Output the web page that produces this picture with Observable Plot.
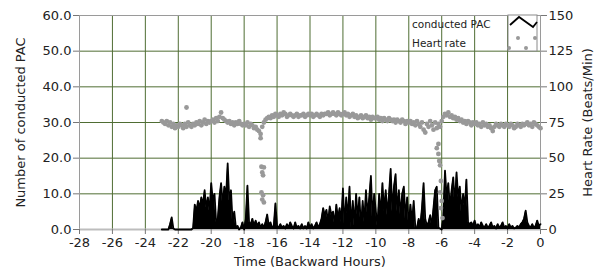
<!DOCTYPE html>
<html>
<head>
<meta charset="utf-8">
<script src="https://cdn.jsdelivr.net/npm/d3@7"></script>
<script src="https://cdn.jsdelivr.net/npm/@observablehq/plot@0.6"></script>
<style>
  html, body { margin: 0; padding: 0; background: #fff; }
  #chart { width: 606px; height: 273px; }
</style>
</head>
<body>
<div id="chart"></div>
<script>
// ---------- data ----------
const xTicks = [-28, -26, -24, -22, -20, -18, -16, -14, -12, -10, -8, -6, -4, -2, 0];
const yTicks = [0, 10, 20, 30, 40, 50, 60];          // left axis (conducted PAC)
const hrTickLabels = [0, 25, 50, 75, 100, 125, 150];  // right axis (heart rate)

// conducted PAC, sampled every 0.1 h from -23.0 h to 0.0 h
const pacStart = -23.0;
const pacStep = 0.1;
const pacValues = [
  0, 0, 0, 0, 0,
  1.5, 3.4, 0.3,
  0, 0, 0, 0, 0, 0, 0, 0, 0, 0, 0, 0.4,
  7, 5, 8, 6, 9, 7, 11, 6, 9, 5,
  13, 8, 10, 2, 3, 9, 13, 7, 12, 9,
  18.5, 8, 11, 2, 5, 0.5, 1, 0, 0.5, 2, 0,
  3, 12.3, 2, 1.5, 3, 1, 2.5, 1, 2, 0.5,
  1.5, 0.5, 2, 4.2, 1, 2, 0.5, 1, 7.3, 1,
  0.5, 1.5, 0.5, 1, 0.3, 1.5, 0.5, 2, 1, 0.3,
  2, 0.5, 1, 0.3, 1.5, 0.3, 1, 0.3, 2, 0.5,
  1.5, 0.3, 1, 2, 0.5, 1.5,
  3, 6, 4, 5.5, 2, 6.5, 4, 5, 1.5, 7,
  3, 6, 2, 11.5, 1, 9, 3, 12, 0.5, 8,
  1, 10, 3, 9, 0.5, 8, 2, 11, 4, 9,
  15, 3, 10, 5, 1, 10, 4, 13, 5, 11,
  4, 10, 17, 5, 12, 15.5, 5, 11, 4, 10,
  12, 3, 9, 1, 7, 2, 8, 0.5, 0.5, 3,
  1, 6, 13, 3, 1, 2, 4, 1, 6, 11,
  12, 0.5, 0.3, 0, 4, 16.5, 9, 13, 6, 11,
  14.6, 7, 16, 9, 12, 5, 10, 6, 14, 2,
  1.5, 2, 1, 2.5, 0.8, 1.5, 0.5, 2, 1, 0.5,
  1.5, 0.5, 1, 2, 0.5, 1, 0.3, 1.5, 0.5, 1,
  2, 0.5, 1, 0.3, 1.5, 0.5, 1, 0.3, 0.5, 1,
  0.5, 1.5, 2, 3, 5.3, 2, 1, 0.5, 1.5, 0.5,
  1, 2.5, 1, 1.5
];

// heart rate (beats/min), sampled every 0.1 h from -23.0 h to 0.0 h
const hrStart = -23.0;
const hrStep = 0.1;
const hrValues = [
  76, 75, 74, 76, 73, 75, 72, 74, 71, 73,
  72, 74, 73, 71, 74, 72, 75, 73, 72, 74,
  73, 75, 74, 76, 73, 75, 77, 74, 76, 75,
  76, 77, 75, 78, 76, 79, 82, 78, 77, 76,
  75, 76, 74, 75, 73, 75, 74, 76, 74, 73,
  74, 73, 75, 72, 74, 73, 71, 72, 70, 69,
  67, 72, 75, 77, 78, 79, 78, 80, 79, 81,
  80, 79, 81, 80, 82, 81, 79, 80, 81, 80,
  79, 80, 81, 79, 80, 80, 81, 79, 80, 81,
  80, 81, 79, 80, 81, 80, 79, 81, 80, 81,
  81, 82, 80, 81, 82, 81, 80, 82, 81, 80,
  81, 82, 80, 81, 79, 80, 81, 79, 80, 78,
  79, 80, 78, 79, 80, 78, 79, 77, 79, 78,
  78, 79, 77, 78, 76, 78, 77, 76, 78, 77,
  76, 77, 75, 77, 76, 75, 77, 76, 74, 76,
  75, 76, 74, 75, 73, 76, 74, 72, 75, 70,
  68, 74, 72, 76, 73, 70, 75, 71, 74, 72,
  76, 79, 81, 80, 82, 79, 80, 78, 79, 77,
  78, 76, 77, 75, 76, 74, 76, 75, 73, 75,
  74, 75, 73, 74, 72, 75, 73, 74, 72, 73,
  71, 69, 72, 74, 73, 72, 74, 73, 72, 74,
  73, 72, 74, 73, 71, 72, 74, 73, 72, 74,
  73, 74, 75, 73, 74, 72, 75, 74, 73, 72, 71
];

// scattered heart-rate readings outside the main band
const hrOutlierTimes  = [-21.5, -17.0, -16.95, -16.8, -16.9, -16.85, -16.95, -16.85, -16.9, -16.8, -6.3, -6.2, -6.2, -6.15, -6.1, -6.05, -6.1, -6.0, -6.05, -5.95];
const hrOutlierValues = [85.5, 64, 44, 43.5, 40, 38, 26, 24, 21, 19, 57, 60, 53, 48, 45, 34, 26, 20, 15, 8];

// ---------- tables ----------
const pac = pacValues.map((v, i) => ({t: pacStart + i * pacStep, v}));
const hr = hrValues.map((b, i) => ({t: hrStart + i * hrStep, b}))
  .concat(hrOutlierTimes.map((t, i) => ({t, b: hrOutlierValues[i]})));
const hrToLeft = 60 / 150;

const gridColor = "#4f6d33";
const font = "DejaVu Sans, Verdana, sans-serif";

const chart = Plot.plot({
  width: 606,
  height: 273,
  marginLeft: 79,
  marginRight: 66,
  marginTop: 15,
  marginBottom: 44,
  style: {fontFamily: font, fontSize: "13px", color: "#222", background: "#fff"},
  x: {domain: [-28, 0]},
  y: {domain: [0, 60]},
  marks: [
    Plot.gridX(xTicks, {stroke: gridColor, strokeOpacity: 1, strokeWidth: 1}),
    Plot.gridY(yTicks, {stroke: gridColor, strokeOpacity: 1, strokeWidth: 1}),
    Plot.frame({stroke: "#9a9a9a"}),
    Plot.ruleY([0], {stroke: "#bdbdbd", strokeWidth: 2}),
    Plot.axisX(xTicks, {tickFormat: d => String(d), tickSize: 5, tickPadding: 3, stroke: "#777", label: null}),
    Plot.axisY(yTicks, {anchor: "left", tickFormat: d => d.toFixed(1), tickSize: 6, tickPadding: 2, stroke: "#777", label: null}),
    Plot.axisY(yTicks, {anchor: "right", tickFormat: (d, i) => String(hrTickLabels[i]), tickSize: 6, tickPadding: 2, stroke: "#777", label: null}),
    Plot.areaY(pac, {x: "t", y: "v", fill: "#000", curve: "linear"}),
    Plot.line(pac, {x: "t", y: "v", stroke: "#000", strokeWidth: 1.8}),
    Plot.dot(hr, {x: "t", y: d => d.b * hrToLeft, r: 2.4, fill: "#999", stroke: null}),
    Plot.text(["Number of conducted PAC"], {frameAnchor: "left", dx: -59, rotate: -90, textAnchor: "middle", fontSize: 13, fill: "#222"}),
    Plot.text(["Heart Rate (Beats/Min)"], {frameAnchor: "right", dx: 47, rotate: -90, textAnchor: "middle", fontSize: 13, fill: "#222"}),
    Plot.text(["Time (Backward Hours)"], {frameAnchor: "bottom", dy: 36, textAnchor: "middle", fontSize: 13, fill: "#222"})
  ]
});

document.getElementById("chart").appendChild(chart);

// ---------- legend (top right, inside the plot) ----------
const svg = d3.select(chart);
const lg = svg.append("g").attr("font-family", font).attr("font-size", 10.5)
  .attr("fill", "#222").attr("text-anchor", "start");
lg.append("text").attr("x", 412).attr("y", 28).text("conducted PAC");
lg.append("text").attr("x", 412).attr("y", 47).text("Heart rate");
lg.append("rect").attr("x", 508).attr("y", 15).attr("width", 29).attr("height", 36)
  .attr("fill", "#fff").attr("stroke", "#8a8a8a");
lg.append("polyline").attr("points", "510,25 519,17 533,27 537,22")
  .attr("fill", "none").attr("stroke", "#000").attr("stroke-width", 1.8);
[[518, 38], [535, 38], [509, 48], [526, 48]].forEach(([cx, cy]) =>
  lg.append("circle").attr("cx", cx).attr("cy", cy).attr("r", 2).attr("fill", "#999"));
</script>
</body>
</html>
